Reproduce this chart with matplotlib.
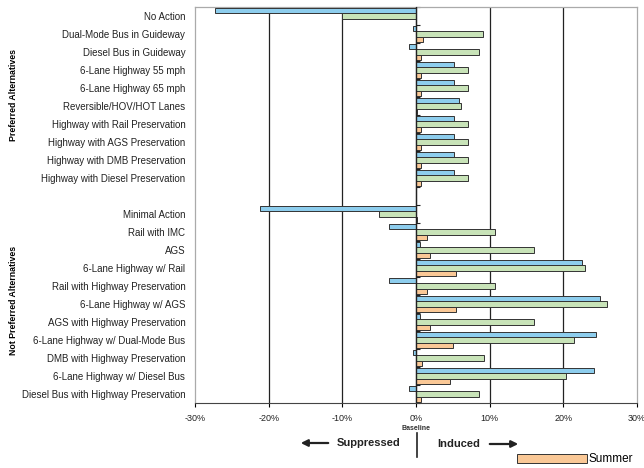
import numpy as np
import matplotlib.pyplot as plt

plt.rcParams['font.family'] = ['Liberation Sans', 'DejaVu Sans']

preferred = ["No Action", "Dual-Mode Bus in Guideway", "Diesel Bus in Guideway",
             "6-Lane Highway 55 mph", "6-Lane Highway 65 mph", "Reversible/HOV/HOT Lanes",
             "Highway with Rail Preservation", "Highway with AGS Preservation",
             "Highway with DMB Preservation", "Highway with Diesel Preservation"]
not_preferred = ["Minimal Action", "Rail with IMC", "AGS", "6-Lane Highway w/ Rail",
                 "Rail with Highway Preservation", "6-Lane Highway w/ AGS",
                 "AGS with Highway Preservation", "6-Lane Highway w/ Dual-Mode Bus",
                 "DMB with Highway Preservation", "6-Lane Highway w/ Diesel Bus",
                 "Diesel Bus with Highway Preservation"]

# percent change vs baseline (blue, green, orange=summer)
blue_pref = [-27.3, -0.4, -1.0, 5.2, 5.2, 5.8, 5.2, 5.2, 5.2, 5.2]
green_pref = [-10.0, 9.1, 8.5, 7.0, 7.0, 6.1, 7.0, 7.0, 7.0, 7.0]
summer_pref = [0.0, 0.9, 0.7, 0.7, 0.7, 0.2, 0.7, 0.7, 0.7, 0.7]

blue_not = [-21.2, -3.7, 0.6, 22.6, -3.7, 25.0, 0.6, 24.4, -0.4, 24.1, -1.0]
green_not = [-5.0, 10.7, 16.0, 22.9, 10.7, 25.9, 16.0, 21.5, 9.2, 20.4, 8.5]
summer_not = [0.2, 1.45, 1.95, 5.4, 1.45, 5.4, 1.95, 5.0, 0.8, 4.6, 0.7]

labels = preferred + [""] + not_preferred
blue = np.array(blue_pref + [np.nan] + blue_not)
green = np.array(green_pref + [np.nan] + green_not)
summer = np.array(summer_pref + [np.nan] + summer_not)
y = np.arange(len(labels))

fig = plt.figure(figsize=(6.44, 4.68), dpi=100)
ax = fig.add_axes([195 / 644, 1 - 403 / 468, 442 / 644, 396 / 468])

h = 0.28
ec = "#333333"
ax.barh(y - h, blue, height=h, color="#8DCDED", edgecolor=ec, linewidth=0.7, zorder=3)
ax.barh(y, green, height=h, color="#C8E3B8", edgecolor=ec, linewidth=0.7, zorder=3)
bars_s = ax.barh(y + h, summer, height=h, color="#FAC896", edgecolor=ec, linewidth=0.7, zorder=3)

ax.set_xlim(-30, 30)
ax.set_ylim(len(labels) - 0.5, -0.5)
ax.set_yticks(y)
ax.set_yticklabels(labels, fontsize=7, color="#222222")
ax.tick_params(axis="y", length=0, pad=7)
xt = np.arange(-30, 31, 10)
ax.set_xticks(xt)
ax.set_xticklabels(["%d%%" % v for v in xt], fontsize=6.5, color="#222222")
ax.tick_params(axis="x", length=3, width=0.8, pad=5)

for v in [-20, -10, 10, 20]:
    ax.axvline(v, color="#222222", lw=0.9, zorder=1)
ax.axvline(0, color="#222222", lw=1.0, zorder=4)
for s in ["top", "left", "right"]:
    ax.spines[s].set_color("#aaaaaa")
    ax.spines[s].set_linewidth(0.9)
ax.spines["bottom"].set_color("#444444")

sec = ax.secondary_yaxis(0.5)
sec.set_yticks(np.arange(len(labels) + 1) - 0.5)
sec.set_yticklabels([])
sec.tick_params(length=3, width=0.8, colors="#222222")
sec.spines["left"].set_visible(False)

fig.text(14 / 644, 1 - 95 / 468, "Preferred Alternatives", rotation=90, fontsize=6.3,
         fontweight="bold", ha="center", va="center")
fig.text(14 / 644, 1 - 300 / 468, "Not Preferred Alternatives", rotation=90, fontsize=6.3,
         fontweight="bold", ha="center", va="center")

fig.text(416 / 644, 1 - 428 / 468, "Baseline", fontsize=5, fontweight="bold",
         ha="center", va="center", color="#333333")
fig.text(369 / 644, 1 - 443 / 468, "Suppressed", fontsize=8, fontweight="bold",
         ha="center", va="center", color="#222222")
fig.text(459 / 644, 1 - 444 / 468, "Induced", fontsize=8, fontweight="bold",
         ha="center", va="center", color="#222222")
fig.add_artist(plt.Line2D([417 / 644, 417 / 644], [1 - 433 / 468, 1 - 457 / 468],
                          color="#222222", lw=1.2))
arr = dict(arrowstyle="-|>", lw=1.6, color="#222222", mutation_scale=10)
ax.annotate("", xy=(298 / 644, 1 - 443 / 468), xytext=(331 / 644, 1 - 443 / 468),
            xycoords="figure fraction", textcoords="figure fraction", arrowprops=arr)
ax.annotate("", xy=(521 / 644, 1 - 444 / 468), xytext=(487 / 644, 1 - 444 / 468),
            xycoords="figure fraction", textcoords="figure fraction", arrowprops=arr)

fig.legend([bars_s], ["Summer"], loc="lower left", bbox_to_anchor=(509 / 644, -0.012),
           frameon=False, fontsize=8.5, handlelength=5.9, handleheight=0.75,
           handletextpad=0.15, borderpad=0.2)

fig.savefig("out.png", dpi=100)
